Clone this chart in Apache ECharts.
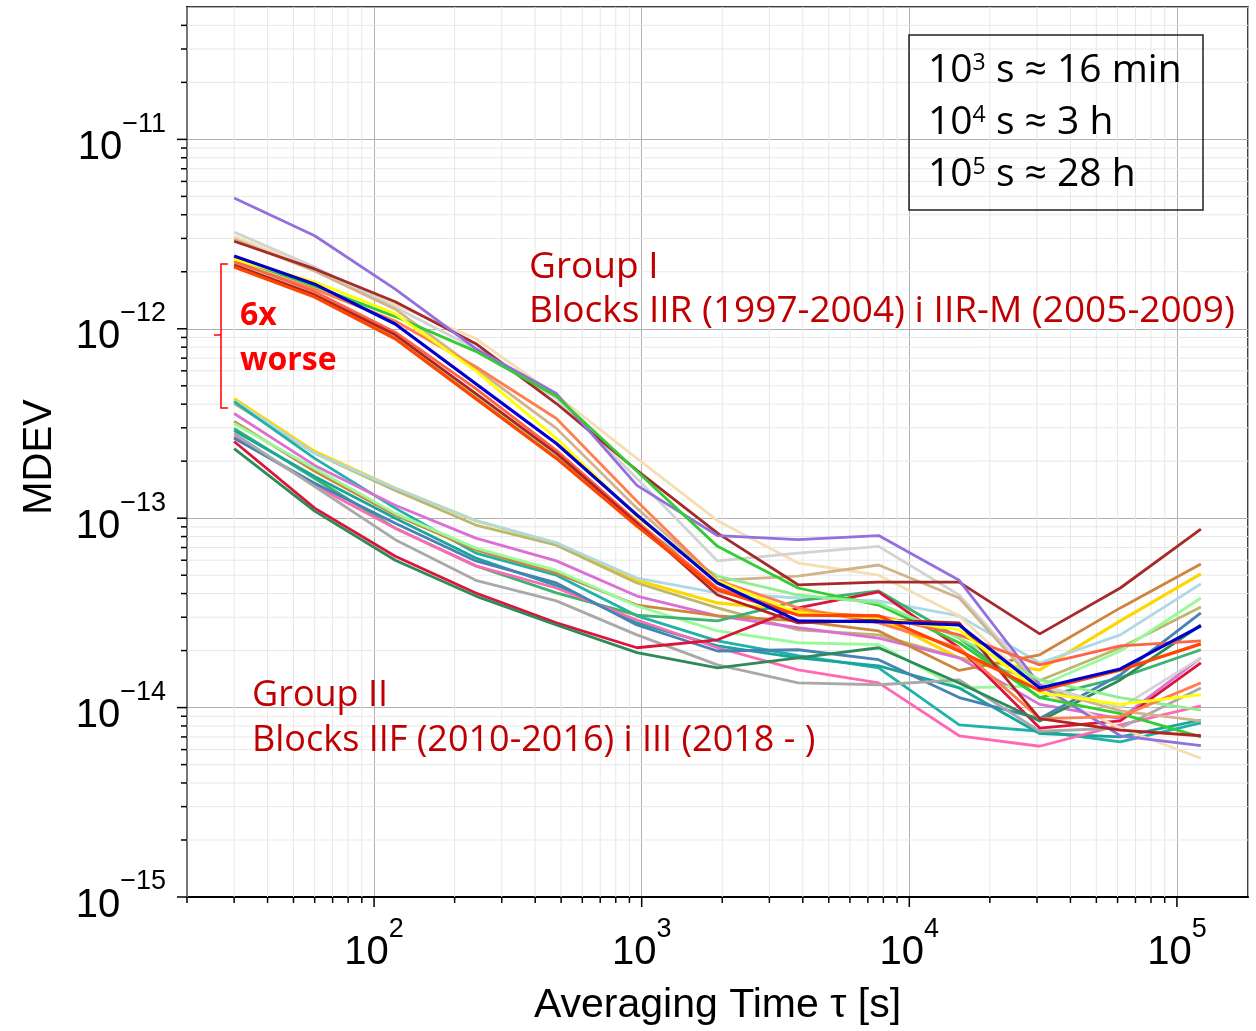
<!DOCTYPE html>
<html><head><meta charset="utf-8">
<script src="https://cdn.jsdelivr.net/npm/echarts@6/dist/echarts.min.js"></script>
<style>html,body{margin:0;padding:0;background:#fff}#c{width:1256px;height:1031px}</style>
</head><body><div id="c"></div>
<script>
// averaging times (s)
const tau = [30, 60, 120, 240, 480, 960, 1920, 3840, 7680, 15360, 30720, 61440, 122880];

// Group I : Blocks IIR / IIR-M
const g1Purple     = [4.9e-12, 3.1e-12, 1.62e-12, 7.85e-13, 4.55e-13, 1.49e-13, 8.1e-14, 7.7e-14, 8.1e-14, 4.7e-14, 1.32e-14, 7.1e-15, 6.3e-15];
const g1LightGray  = [3.24e-12, 2.12e-12, 1.3e-12, 7.85e-13, 4.28e-13, 1.62e-13, 5.95e-14, 6.54e-14, 7.1e-14, 3.93e-14, 1.32e-14, 1.0e-14, 1.83e-14];
const g1Wheat      = [3.08e-12, 2.07e-12, 1.35e-12, 8.86e-13, 4.45e-13, 2.07e-13, 9.7e-14, 5.8e-14, 5.0e-14, 3.05e-14, 1.23e-14, 7.8e-15, 5.4e-15];
const g1Brown      = [2.9e-12, 2.07e-12, 1.39e-12, 8.34e-13, 4.03e-13, 1.79e-13, 8.34e-14, 4.45e-14, 4.6e-14, 4.6e-14, 2.45e-14, 4.28e-14, 8.75e-14];
const g1Tan        = [2.98e-12, 2.02e-12, 1.27e-12, 6.16e-13, 2.98e-13, 1.13e-13, 4.7e-14, 4.95e-14, 5.66e-14, 3.79e-14, 1.27e-14, 9.6e-15, 8.5e-15];
const g1Blue       = [2.42e-12, 1.72e-12, 1.06e-12, 5.13e-13, 2.48e-13, 1.04e-13, 4.55e-14, 2.87e-14, 2.84e-14, 2.73e-14, 1.27e-14, 1.6e-14, 2.7e-14];
const g1LimeGreen  = [2.36e-12, 1.68e-12, 1.16e-12, 7.6e-13, 4.4e-13, 1.77e-13, 7.1e-14, 4.28e-14, 3.48e-14, 2.2e-14, 1.13e-14, 9.3e-15, 7.0e-15];
const g1Yellow     = [2.33e-12, 1.77e-12, 1.2e-12, 6.0e-13, 2.64e-13, 1.02e-13, 4.66e-14, 3.16e-14, 2.98e-14, 2.57e-14, 1.2e-14, 1.04e-14, 1.17e-14];
const g1Tomato     = [2.28e-12, 1.57e-12, 9.6e-13, 4.83e-13, 2.28e-13, 9.6e-14, 4.28e-14, 3.16e-14, 3.05e-14, 2.42e-14, 1.68e-14, 2.12e-14, 2.25e-14];
const g1Coral      = [2.25e-12, 1.62e-12, 1.1e-12, 6.3e-13, 3.36e-13, 1.23e-13, 4.7e-14, 3.36e-14, 2.8e-14, 2.07e-14, 8.75e-15, 8.96e-15, 1.35e-14];
const g1OrangeRed  = [2.12e-12, 1.47e-12, 8.86e-13, 4.28e-13, 2.07e-13, 9.1e-14, 4.18e-14, 3.08e-14, 3.05e-14, 1.99e-14, 1.23e-14, 1.58e-14, 2.17e-14];
const g1LightGreen = [2.2e-12, 1.51e-12, 9.1e-13, 4.4e-13, 2.12e-13, 9.1e-14, 4.95e-14, 3.93e-14, 3.57e-14, 2.33e-14, 1.4e-14, 1.13e-14, 9.7e-15];
const g1FireBrick  = [2.17e-12, 1.51e-12, 9.3e-13, 4.55e-13, 2.2e-13, 9.4e-14, 3.93e-14, 2.8e-14, 2.9e-14, 2.8e-14, 8.75e-15, 7.6e-15, 7.1e-15];

// Group II : Blocks IIF / III
const g2Gold        = [4.28e-13, 2.25e-13, 1.44e-13, 9.7e-14, 7.4e-14, 4.7e-14, 3.57e-14, 3.24e-14, 2.98e-14, 1.83e-14, 1.58e-14, 2.87e-14, 5.08e-14];
const g2DarkKhaki   = [4.03e-13, 2.2e-13, 1.4e-13, 9.2e-14, 7.2e-14, 4.55e-14, 3.36e-14, 2.57e-14, 2.42e-14, 1.83e-14, 1.39e-14, 2.07e-14, 3.4e-14];
const g2LightSea    = [4.13e-13, 2.07e-13, 1.13e-13, 6.54e-14, 5.0e-14, 3.05e-14, 2.25e-14, 1.88e-14, 1.62e-14, 8.1e-15, 7.5e-15, 6.6e-15, 8.3e-15];
const g2Orchid      = [3.57e-13, 1.9e-13, 1.17e-13, 7.85e-14, 5.95e-14, 3.88e-14, 3.05e-14, 2.64e-14, 2.33e-14, 1.83e-14, 1.04e-14, 8.75e-15, 1.83e-14];
const g2Peru        = [3.24e-13, 1.77e-13, 1.04e-13, 6.8e-14, 5.13e-14, 3.48e-14, 3.05e-14, 2.87e-14, 2.54e-14, 1.57e-14, 1.9e-14, 3.36e-14, 5.73e-14];
const g2PaleGreen   = [3.16e-13, 1.83e-13, 1.06e-13, 6.95e-14, 5.3e-14, 3.44e-14, 2.54e-14, 2.2e-14, 2.15e-14, 1.27e-14, 1.3e-14, 1.99e-14, 3.79e-14];
const g2LightBlue   = [4.18e-13, 2.2e-13, 1.44e-13, 9.7e-14, 7.4e-14, 4.83e-14, 4.03e-14, 3.79e-14, 3.66e-14, 3.05e-14, 1.72e-14, 2.42e-14, 4.5e-14];
const g2SteelBlue   = [2.64e-13, 1.53e-13, 9.4e-14, 5.95e-14, 4.55e-14, 2.73e-14, 1.99e-14, 2.02e-14, 1.79e-14, 1.13e-14, 8.75e-15, 1.49e-14, 3.16e-14];
const g2DarkGray    = [2.8e-13, 1.47e-13, 7.7e-14, 4.7e-14, 3.66e-14, 2.42e-14, 1.68e-14, 1.35e-14, 1.32e-14, 1.4e-14, 7.5e-15, 7.8e-15, 1.27e-14];
const g2Crimson     = [2.54e-13, 1.13e-13, 6.3e-14, 4.03e-14, 2.8e-14, 2.07e-14, 2.28e-14, 3.36e-14, 4.08e-14, 2.07e-14, 7.8e-15, 8.5e-15, 1.72e-14];
const g2SeaGreen    = [2.33e-13, 1.09e-13, 6.0e-14, 3.88e-14, 2.73e-14, 1.95e-14, 1.62e-14, 1.83e-14, 2.07e-14, 1.35e-14, 8.5e-15, 1.4e-14, 2.73e-14];
const g2MedSeaGreen = [2.98e-13, 1.62e-13, 8.86e-14, 5.6e-14, 4.03e-14, 3.08e-14, 2.87e-14, 3.66e-14, 4.13e-14, 2.33e-14, 1.13e-14, 1.44e-14, 2.02e-14];
const g2HotPink     = [2.7e-13, 1.49e-13, 8.86e-14, 5.6e-14, 4.28e-14, 2.9e-14, 2.07e-14, 1.58e-14, 1.35e-14, 7.1e-15, 6.25e-15, 8.1e-15, 1.02e-14];
const g2Teal        = [2.9e-13, 1.66e-13, 1.0e-13, 6.16e-14, 4.4e-14, 2.8e-14, 2.12e-14, 1.83e-14, 1.66e-14, 1.27e-14, 7.3e-15, 7.0e-15, 8.6e-15];

// tick positions
const xMajorTicks = [100, 1000, 10000, 100000];
const xMinorTicks = [20, 30, 40, 50, 60, 70, 80, 90, 200, 300, 400, 500, 600, 700, 800, 900,
  2000, 3000, 4000, 5000, 6000, 7000, 8000, 9000, 20000, 30000, 40000, 50000, 60000, 70000, 80000, 90000];
const yMajorTicks = [1e-15, 1e-14, 1e-13, 1e-12, 1e-11];
const yMinorTicks = [2e-15, 3e-15, 4e-15, 5e-15, 6e-15, 7e-15, 8e-15, 9e-15,
  2e-14, 3e-14, 4e-14, 5e-14, 6e-14, 7e-14, 8e-14, 9e-14,
  2e-13, 3e-13, 4e-13, 5e-13, 6e-13, 7e-13, 8e-13, 9e-13,
  2e-12, 3e-12, 4e-12, 5e-12, 6e-12, 7e-12, 8e-12, 9e-12,
  2e-11, 3e-11, 4e-11];

const X_MIN = 20, X_MAX = 184320, Y_MIN = 1e-15, Y_MAX = 5e-11;

const W = 2.8, WT = 3.2;
const seriesDefs = [
  [g2Gold, '#ffd700', WT], [g2DarkKhaki, '#bdb76b', W], [g2LightBlue, '#add8e6', W],
  [g2LightSea, '#20b2aa', W], [g2Orchid, '#da70d6', W], [g2Peru, '#cd853f', W],
  [g2PaleGreen, '#98fb98', W], [g2MedSeaGreen, '#3cb371', W], [g2Teal, '#1aa59a', W],
  [g2HotPink, '#ff69b4', W], [g2SteelBlue, '#4682b4', W], [g2DarkGray, '#a9a9a9', W],
  [g2Crimson, '#dc143c', W], [g2SeaGreen, '#2e8b57', W],
  [g1Wheat, '#f5deb3', W], [g1LightGray, '#d3d3d3', W], [g1Tan, '#d2b48c', W],
  [g1Brown, '#a52a2a', W], [g1Purple, '#9370db', W], [g1LimeGreen, '#32cd32', W],
  [g1LightGreen, '#90ee90', W], [g1Coral, '#ff7f50', W], [g1Tomato, '#ff6347', W],
  [g1FireBrick, '#b22222', W], [g1Yellow, '#ffff00', W], [g1OrangeRed, '#ff4500', WT],
  [g1Blue, '#0000cd', WT]
];

function supLabel(v) {
  const e = Math.log10(v);
  const r = Math.round(e);
  if (Math.abs(e - r) > 1e-6) return '';
  const s = r < 0 ? '\u2212' + (-r) : String(r);
  return '{b|10}{e|' + s + '}';
}
const labelRich = {
  b: { fontSize: 40, fontFamily: 'Liberation Sans', color: '#000', verticalAlign: 'bottom' },
  e: { fontSize: 27, fontFamily: 'Liberation Sans', color: '#000', verticalAlign: 'bottom', padding: [0, 0, 30, 0] }
};

function tickSeries(values, axis, len, gridLine) {
  const data = values.map(v => axis === 'x' ? [v, Y_MIN] : [X_MIN, v]);
  return {
    type: 'custom', data: data, clip: false, silent: true, z: 1, animation: false,
    renderItem: function (params, api) {
      const cs = params.coordSys;
      const p = api.coord([api.value(0), api.value(1)]);
      const ch = [];
      if (axis === 'x') {
        const x = p[0], b = cs.y + cs.height;
        if (gridLine) ch.push({ type: 'line', shape: { x1: x, y1: cs.y, x2: x, y2: b }, style: { stroke: '#e8e8e8', lineWidth: 1 } });
        ch.push({ type: 'line', shape: { x1: x, y1: b, x2: x, y2: b + len }, style: { stroke: '#000', lineWidth: 1.5 } });
      } else {
        const y = p[1], l = cs.x;
        if (gridLine) ch.push({ type: 'line', shape: { x1: l, y1: y, x2: l + cs.width, y2: y }, style: { stroke: '#e8e8e8', lineWidth: 1 } });
        ch.push({ type: 'line', shape: { x1: l - len, y1: y, x2: l, y2: y }, style: { stroke: '#000', lineWidth: 1.5 } });
      }
      return { type: 'group', children: ch };
    }
  };
}

const series = [
  tickSeries(xMinorTicks, 'x', 6, true),
  tickSeries(yMinorTicks, 'y', 6, true),
  tickSeries(xMajorTicks, 'x', 10, false),
  tickSeries(yMajorTicks, 'y', 10, false)
];
seriesDefs.forEach(function (d) {
  series.push({
    type: 'line', symbol: 'none', silent: true, z: 3,
    data: tau.map((t, i) => [t, d[0][i]]),
    lineStyle: { color: d[1], width: d[2] },
    emphasis: { disabled: true }
  });
});

const supRich = { s: { fontSize: 23, fontFamily: 'Open Sans', verticalAlign: 'top', fill: '#000' } };

const chart = echarts.init(document.getElementById('c'), null, { renderer: 'canvas' });
chart.setOption({
  animation: false,
  backgroundColor: '#fff',
  grid: { left: 187, top: 7, right: 8, bottom: 132, show: true, borderColor: '#000', borderWidth: 1.5, backgroundColor: 'transparent' },
  xAxis: {
    type: 'log', logBase: 10, min: X_MIN, max: X_MAX,
    name: 'Averaging Time \u03c4 [s]', nameLocation: 'middle', nameGap: 88,
    nameTextStyle: { fontSize: 41, fontFamily: 'Liberation Sans', color: '#000' },
    axisLine: { show: true, lineStyle: { color: '#000', width: 2 } },
    axisTick: { show: false },
    axisLabel: { formatter: supLabel, rich: labelRich, margin: 19 },
    splitLine: { show: true, lineStyle: { color: '#b0b0b0', width: 1 } }
  },
  yAxis: {
    type: 'log', logBase: 10, min: Y_MIN, max: Y_MAX,
    name: 'MDEV', nameLocation: 'middle', nameGap: 127,
    nameTextStyle: { fontSize: 40, fontFamily: 'Liberation Sans', color: '#000', padding: [0, 10, 0, 0] },
    axisLine: { show: true, lineStyle: { color: '#000', width: 2 } },
    axisTick: { show: false },
    axisLabel: { formatter: supLabel, rich: labelRich, margin: 21 },
    splitLine: { show: true, lineStyle: { color: '#b0b0b0', width: 1 } }
  },
  graphic: [
    { type: 'text', z: 100, style: { text: 'Group I', x: 529, y: 267, font: '37px "Open Sans"', fill: '#c00000', verticalAlign: 'middle' } },
    { type: 'text', z: 100, style: { text: 'Blocks IIR (1997-2004) i IIR-M (2005-2009)', x: 529, y: 311, font: '37px "Open Sans"', fill: '#c00000', verticalAlign: 'middle' } },
    { type: 'text', z: 100, style: { text: 'Group II', x: 252, y: 696, font: '36px "Open Sans"', fill: '#c00000', verticalAlign: 'middle' } },
    { type: 'text', z: 100, style: { text: 'Blocks IIF (2010-2016) i III (2018 - )', x: 252, y: 741, font: '36px "Open Sans"', fill: '#c00000', verticalAlign: 'middle' } },
    { type: 'text', z: 100, style: { text: '6x', x: 240, y: 316, font: 'bold 32px "Open Sans"', fill: '#ff0000', verticalAlign: 'middle' } },
    { type: 'text', z: 100, style: { text: 'worse', x: 240, y: 361, font: 'bold 32px "Open Sans"', fill: '#ff0000', verticalAlign: 'middle' } },
    { type: 'polyline', z: 100, shape: { points: [[228, 264], [221, 264], [221, 408], [228, 408]] }, style: { stroke: '#ff0000', lineWidth: 1.5, fill: null } },
    { type: 'line', z: 100, shape: { x1: 214, y1: 335, x2: 221, y2: 335 }, style: { stroke: '#ff0000', lineWidth: 1.5 } },
    { type: 'rect', z: 100, shape: { x: 909, y: 35, width: 294, height: 175 }, style: { fill: 'rgba(0,0,0,0)', stroke: '#222', lineWidth: 1.5 } },
    { type: 'text', z: 101, style: { text: '10{s|3} s \u2248 16 min', x: 928, y: 71, font: '39px "Open Sans"', fill: '#000', verticalAlign: 'middle', rich: supRich } },
    { type: 'text', z: 101, style: { text: '10{s|4} s \u2248 3 h', x: 928, y: 123, font: '39px "Open Sans"', fill: '#000', verticalAlign: 'middle', rich: supRich } },
    { type: 'text', z: 101, style: { text: '10{s|5} s \u2248 28 h', x: 928, y: 175, font: '39px "Open Sans"', fill: '#000', verticalAlign: 'middle', rich: supRich } }
  ],
  series: series
});
</script></body></html>
